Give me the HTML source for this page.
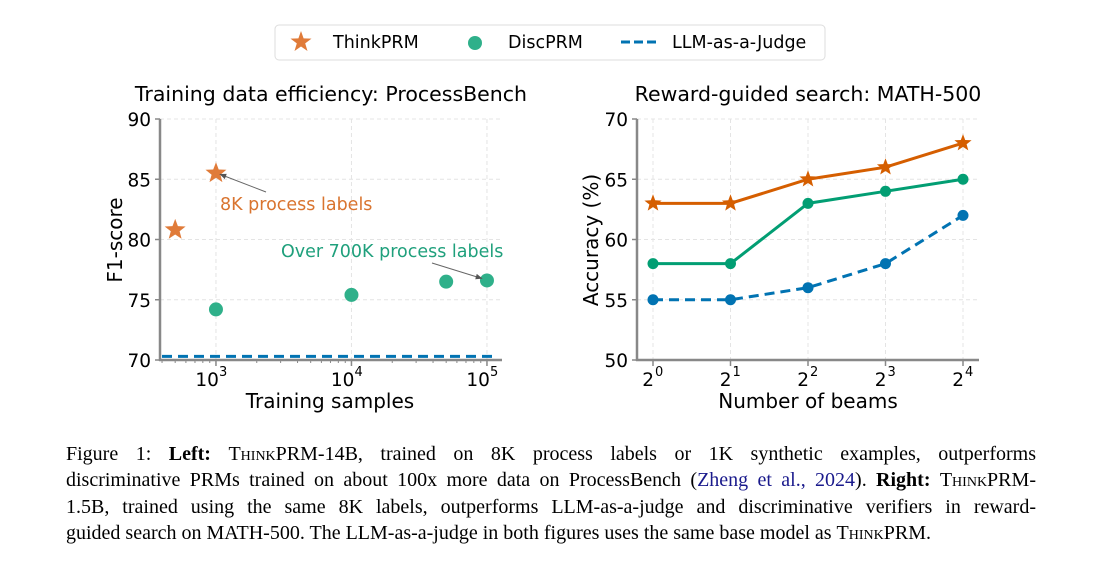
<!DOCTYPE html>
<html><head><meta charset="utf-8"><style>
body{margin:0;background:#fff;width:1102px;height:574px;overflow:hidden;position:relative;font-family:"DejaVu Sans","Liberation Sans",sans-serif}
.cap{position:absolute;left:66px;width:970px;font-family:"Liberation Serif",serif;font-size:20px;color:#000;text-align:justify;text-align-last:justify;white-space:nowrap;line-height:26px}
.cap.last{text-align-last:left}
.sc{font-variant:small-caps}
.cite{color:#1a1a8c}
</style></head><body>
<svg id="fig" width="1102" height="440" style="position:absolute;left:0;top:0" font-family="DejaVu Sans, Liberation Sans, sans-serif">
<defs><marker id="ah" viewBox="0 0 10 10" refX="9" refY="5" markerWidth="7" markerHeight="7" orient="auto"><path d="M0,1 L10,5 L0,9 z" fill="#555"/></marker></defs>
<g>
<rect x="275" y="25" width="550" height="35" rx="4" fill="#fff" stroke="#ddd"/>
<polygon points="301,31 303.6,38.4 311.5,38.6 305.2,43.4 307.5,51 301,46.5 294.5,51 296.8,43.4 290.5,38.6 298.4,38.4" fill="#e07b39"/>
<text x="333" y="48" font-size="17.5">ThinkPRM</text>
<circle cx="475" cy="43" r="7" fill="#2fb08a"/>
<text x="508" y="48" font-size="17.5">DiscPRM</text>
<line x1="621" y1="42" x2="657" y2="42" stroke="#0173b2" stroke-width="3" stroke-dasharray="9,4"/>
<text x="672" y="48" font-size="17.5">LLM-as-a-Judge</text>
</g>
<g id="left"></g>
<g id="right"></g>
</svg>
<div class="cap" style="top:441px">Figure 1: <b>Left:</b> <span class="sc">ThinkPRM</span>-14B, trained on 8K process labels or 1K synthetic examples, outperforms</div>
<div class="cap" style="top:467px">discriminative PRMs trained on about 100x more data on ProcessBench (<span class="cite">Zheng et al., 2024</span>). <b>Right:</b> <span class="sc">ThinkPRM</span>-</div>
<div class="cap" style="top:494px">1.5B, trained using the same 8K labels, outperforms LLM-as-a-judge and discriminative verifiers in reward-</div>
<div class="cap last" style="top:520px">guided search on MATH-500. The LLM-as-a-judge in both figures uses the same base model as <span class="sc">ThinkPRM</span>.</div>
<script>
// Left chart data
const leftYTicks=[70,75,80,85,90];
const leftXTickExps=[3,4,5];
const thinkX=[500,1000];
const thinkY=[80.8,85.5];
const discX=[1000,10000,50000,100000];
const discY=[74.2,75.4,76.5,76.6];
const judgeLeftY=70.3;
// Right chart data
const beamExps=[0,1,2,3,4];
const rightYTicks=[50,55,60,65,70];
const thinkAcc=[63,63,65,66,68];
const discAcc=[58,58,63,64,65];
const judgeAcc=[55,55,56,58,62];

const NS="http://www.w3.org/2000/svg";
function mk(p,tag,attrs){const e=document.createElementNS(NS,tag);for(const k in attrs)e.setAttribute(k,attrs[k]);p.appendChild(e);return e;}
function star(cx,cy,R){const pts=[];for(let i=0;i<10;i++){const r=i%2?R*0.42:R;const a=-Math.PI/2+i*Math.PI/5;pts.push((cx+r*Math.cos(a)).toFixed(1)+","+(cy+r*Math.sin(a)).toFixed(1));}return pts.join(" ");}
const TF=18.5, TT=20.5, AT=20;

// LEFT
const L=document.getElementById('left');
const lx=v=>160+(Math.log10(v)-2.587)*135.5;
const ly=v=>360-(v-70)*12.05;
const lt=mk(L,'text',{x:331,y:101,'font-size':TT,'text-anchor':'middle'});lt.textContent='Training data efficiency: ProcessBench';

leftYTicks.forEach(t=>{const y=ly(t);
 const g=mk(L,'line',{x1:160,x2:502,y1:y,y2:y,stroke:'#e4e4e4','stroke-dasharray':'4,3'});
 
 mk(L,'line',{x1:155,x2:160,y1:y,y2:y,stroke:'#888','stroke-width':1.5});
 const tx=mk(L,'text',{x:151,y:y+7,'font-size':TF,'text-anchor':'end'});tx.textContent=t;
 
});
leftXTickExps.forEach(e=>{const x=lx(Math.pow(10,e));
 const g=mk(L,'line',{x1:x,x2:x,y1:119,y2:360,stroke:'#e4e4e4','stroke-dasharray':'4,3'});
 
 mk(L,'line',{x1:x,x2:x,y1:360,y2:366,stroke:'#888','stroke-width':1.5});
 const tx=mk(L,'text',{x:x+3,y:386,'font-size':TF,'text-anchor':'end'});tx.textContent='10';
 
 const s=mk(L,'text',{x:x+3,y:376,'font-size':13});s.textContent=e;
});
for(let e=2;e<=5;e++)for(let m=2;m<=9;m++){const v=m*Math.pow(10,e);const x=lx(v);if(x>160&&x<502)mk(L,'line',{x1:x,x2:x,y1:360,y2:363,stroke:'#888'});}
const la=mk(L,'line',{x1:160,x2:160,y1:119,y2:361,stroke:'#888','stroke-width':2.5});
const lb=mk(L,'line',{x1:159,x2:502,y1:360,y2:360,stroke:'#888','stroke-width':2.5});
const jl=mk(L,'line',{x1:162,x2:498,y1:ly(judgeLeftY),y2:ly(judgeLeftY),stroke:'#0173b2','stroke-width':3,'stroke-dasharray':'10,6'});

discX.forEach((v,i)=>{const c=mk(L,'circle',{cx:lx(v),cy:ly(discY[i]),r:7,fill:'#2fb08a'});
 });
thinkX.forEach((v,i)=>{const p=mk(L,'polygon',{points:star(lx(v),ly(thinkY[i]),11),fill:'#e07b39'});
 });
mk(L,'line',{x1:266,y1:192,x2:lx(1000)+4,y2:ly(85.5)+1,stroke:'#666','stroke-width':1,'marker-end':'url(#ah)'});
mk(L,'line',{x1:432,y1:263,x2:lx(100000)-5,y2:ly(76.6)-2,stroke:'#666','stroke-width':1,'marker-end':'url(#ah)'});
const a1=mk(L,'text',{x:220,y:210,'font-size':17.5,fill:'#d9742f'});a1.textContent='8K process labels';

const a2=mk(L,'text',{x:281,y:257,'font-size':17.5,fill:'#1fa07c'});a2.textContent='Over 700K process labels';

const lyt=mk(L,'text',{x:0,y:0,'font-size':AT,'text-anchor':'middle',transform:'translate(122,240) rotate(-90)'});lyt.textContent='F1-score';

const lxt=mk(L,'text',{x:330,y:408,'font-size':AT,'text-anchor':'middle'});lxt.textContent='Training samples';


// RIGHT
const R=document.getElementById('right');
const rx=e=>653+e*77.5;
const ry=v=>360-(v-50)*12.05;
const rt=mk(R,'text',{x:808,y:101,'font-size':TT,'text-anchor':'middle'});rt.textContent='Reward-guided search: MATH-500';

rightYTicks.forEach(t=>{const y=ry(t);
 const g=mk(R,'line',{x1:637,x2:979,y1:y,y2:y,stroke:'#e4e4e4','stroke-dasharray':'4,3'});
 
 mk(R,'line',{x1:632,x2:637,y1:y,y2:y,stroke:'#888','stroke-width':1.5});
 const tx=mk(R,'text',{x:628,y:y+7,'font-size':TF,'text-anchor':'end'});tx.textContent=t;
 
});
beamExps.forEach(e=>{const x=rx(e);
 const g=mk(R,'line',{x1:x,x2:x,y1:119,y2:360,stroke:'#e4e4e4','stroke-dasharray':'4,3'});
 
 mk(R,'line',{x1:x,x2:x,y1:360,y2:366,stroke:'#888','stroke-width':1.5});
 const tx=mk(R,'text',{x:x+1,y:386,'font-size':TF,'text-anchor':'end'});tx.textContent='2';
 
 const s=mk(R,'text',{x:x+2,y:376,'font-size':13});s.textContent=e;
});
const ra=mk(R,'line',{x1:637,x2:637,y1:119,y2:361,stroke:'#888','stroke-width':2.5});
const rb=mk(R,'line',{x1:636,x2:979,y1:360,y2:360,stroke:'#888','stroke-width':2.5});
function series(vals,color,dash,name,isStar){
 const pts=vals.map((v,i)=>rx(beamExps[i])+','+ry(v)).join(' ');
 const pl=mk(R,'polyline',{points:pts,fill:'none',stroke:color,'stroke-width':3});
 if(dash)pl.setAttribute('stroke-dasharray','10,6');
 
 vals.forEach((v,i)=>{let m;
  if(isStar)m=mk(R,'polygon',{points:star(rx(beamExps[i]),ry(v),9),fill:color});
  else m=mk(R,'circle',{cx:rx(beamExps[i]),cy:ry(v),r:5.5,fill:color});
  });
}
series(judgeAcc,'#0173b2',true,'llm-judge',false);
series(discAcc,'#029e73',false,'discprm',false);
series(thinkAcc,'#d55e00',false,'thinkprm',true);
const ryt=mk(R,'text',{x:0,y:0,'font-size':AT,'text-anchor':'middle',transform:'translate(598,240) rotate(-90)'});ryt.textContent='Accuracy (%)';

const rxt=mk(R,'text',{x:808,y:408,'font-size':AT,'text-anchor':'middle'});rxt.textContent='Number of beams';

</script>
</body></html>
